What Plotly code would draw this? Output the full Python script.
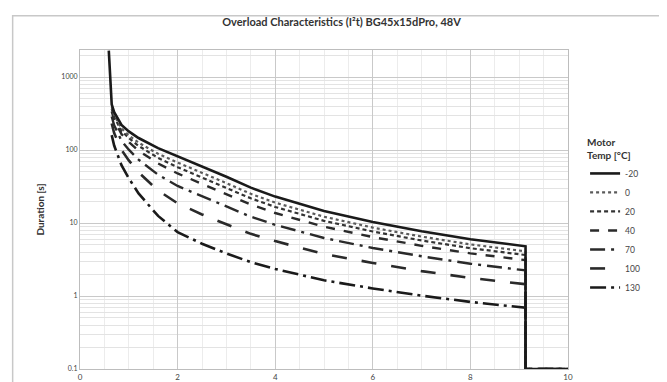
import plotly.graph_objects as go

# ---- data ----
current = [0.59, 0.62, 0.65, 0.7, 0.85, 1.0, 1.2, 1.6, 2.0, 2.5, 3.0, 3.5, 4.0, 5.0, 6.0, 7.0, 8.0, 9.13, 9.13, 10.0]

t_m20 = [2300, 900, 420, 330, 220, 180, 146, 106, 82, 60, 43, 30.5, 23, 14.6, 10.3, 7.7, 6.0, 4.8, 0.1, 0.1]
t_0   = [None, None, 387, 302, 198, 159, 126, 88.8, 67.3, 49, 35.2, 25.1, 19.0, 12.2, 8.65, 6.51, 5.09, 4.09, 0.1, 0.1]
t_20  = [None, None, 366, 284, 183, 146, 114, 78, 58.2, 42.3, 30.4, 21.8, 16.6, 10.7, 7.64, 5.76, 4.52, 3.64, 0.1, 0.1]
t_40  = [None, None, 337, 260, 165, 129, 98, 65.4, 47.7, 34.5, 24.9, 17.9, 13.7, 8.9, 6.41, 4.87, 3.84, 3.10, 0.1, 0.1]
t_70  = [None, None, 288, 218, 134, 101, 73.8, 45.9, 32.2, 23.2, 16.7, 12.2, 9.45, 6.23, 4.55, 3.50, 2.77, 2.24, 0.1, 0.1]
t_100 = [None, None, 231, 171, 100, 72, 49.5, 27.9, 18.6, 13.1, 9.6, 7.1, 5.65, 3.75, 2.84, 2.19, 1.77, 1.45, 0.1, 0.1]
t_130 = [None, None, 160, 115, 62, 41, 25.4, 12.5, 7.5, 5.2, 3.83, 2.91, 2.35, 1.64, 1.27, 1.01, 0.83, 0.69, 0.1, 0.1]

series_names = ["-20", "0", "20", "40", "70", "100", "130"]
series_values = [t_m20, t_0, t_20, t_40, t_70, t_100, t_130]

x_ticks = [0, 2, 4, 6, 8, 10]
y_ticks = [0.1, 1, 10, 100, 1000]
y_tick_labels = ["0.1", "1", "10", "100", "1000"]
y_minor = [m * d for d in (0.1, 1, 10, 100, 1000) for m in range(2, 10)]

# ---- styles ----
styles = [
    dict(dash="solid", width=2.6, color="#1a1a1a"),
    dict(dash="dot", width=2.2, color="#5a5a5a"),
    dict(dash="4px,3px", width=2.2, color="#333333"),
    dict(dash="dash", width=2.4, color="#2a2a2a"),
    dict(dash="longdashdot", width=2.4, color="#2a2a2a"),
    dict(dash="longdash", width=2.6, color="#2a2a2a"),
    dict(dash="16px,5px,3px,5px", width=2.6, color="#1a1a1a"),
]

fig = go.Figure()
for name, vals, st in reversed(list(zip(series_names, series_values, styles))):
    fig.add_trace(go.Scatter(
        x=current, y=vals, mode="lines", name=name,
        line=dict(color=st["color"], width=st["width"], dash=st["dash"]),
        connectgaps=False,
    ))

font_family = "Lato, 'Open Sans', sans-serif"

fig.update_layout(
    width=667, height=382,
    margin=dict(l=72, r=107, t=42, b=21, autoexpand=False),
    paper_bgcolor="white",
    plot_bgcolor="white",
    font=dict(family=font_family, size=8, color="#444"),
    title=dict(
        text="<b>Overload Characteristics (I²t) BG45x15dPro, 48V</b>",
        x=0.5, xanchor="center", y=0.962, yanchor="middle",
        font=dict(family=font_family, size=11, color="#333"),
    ),
    legend=dict(
        title=dict(text="<b>Motor<br>Temp [°C]</b>", font=dict(size=10, color="#333")),
        traceorder="reversed",
        x=1.035, xanchor="left", y=0.74, yanchor="top",
        font=dict(size=8.5, color="#444"),
        bgcolor="rgba(0,0,0,0)",
        itemwidth=30,
        tracegroupgap=0,
    ),
    showlegend=True,
)

fig.update_xaxes(
    range=[0, 10], automargin=False,
    tickmode="array", tickvals=x_ticks,
    showgrid=True, gridcolor="#c9c9c9", gridwidth=1,
    minor=dict(dtick=0.5, showgrid=True, gridcolor="#ececec", gridwidth=1),
    showline=True, linecolor="#bdbdbd", linewidth=1, mirror=True,
    zeroline=False,
    ticks="", tickfont=dict(size=8, color="#444"),
)

fig.update_yaxes(
    type="log", automargin=False,
    range=[-1, 3.37],
    tickmode="array", tickvals=y_ticks, ticktext=y_tick_labels,
    showgrid=True, gridcolor="#c9c9c9", gridwidth=1,
    minor=dict(tickmode="array", tickvals=y_minor, showgrid=True, gridcolor="#e3e3e3", gridwidth=1),
    showline=True, linecolor="#bdbdbd", linewidth=1, mirror=True,
    zeroline=False,
    ticks="", tickfont=dict(size=7, color="#444"),
    title=dict(text="<b>Duration [s]</b>", font=dict(size=10, color="#333"), standoff=14),
)

# outer chart frame
fig.add_shape(
    type="rect", xref="paper", yref="paper",
    x0=-0.138, x1=1.205, y0=-0.2, y1=1.107,
    line=dict(color="#c8c8c8", width=1.5), fillcolor="rgba(0,0,0,0)", layer="below",
)

fig.write_html("out.html")
